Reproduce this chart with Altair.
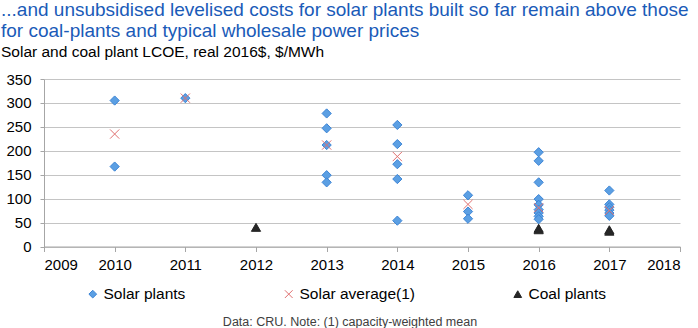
import altair as alt
import pandas as pd

# ---- data ----
series_names = ["Solar plants", "Solar average(1)", "Coal plants"]

solar_years = [2010, 2010,
               2011,
               2013, 2013, 2013, 2013, 2013,
               2014, 2014, 2014, 2014, 2014,
               2015, 2015, 2015,
               2016, 2016, 2016, 2016, 2016, 2016, 2016, 2016, 2016,
               2017, 2017, 2017, 2017, 2017, 2017]
solar_values = [305, 167,
                310,
                278, 247, 212, 149, 134,
                254, 214, 172, 141, 54,
                107, 73, 58,
                197, 179, 134, 99, 87, 77, 70, 63, 57,
                117, 88, 82, 76, 70, 64]

avg_years = [2010, 2011, 2013, 2014, 2015, 2016, 2017]
avg_values = [235, 310, 212, 188, 88, 81, 75]

coal_years = [2012, 2016, 2016, 2017, 2017]
coal_values = [40, 38, 35, 35, 32]

year_ticks = list(range(2009, 2019))
value_ticks = list(range(0, 351, 50))

title_lines = ["...and unsubsidised levelised costs for solar plants built so far remain above those",
               "for coal-plants and typical wholesale power prices"]
subtitle_text = "Solar and coal plant LCOE, real 2016$, $/MWh"
footer_text = "Data: CRU. Note: (1) capacity-weighted mean"

# ---- table ----
df = pd.concat([
    pd.DataFrame({"year": solar_years, "value": solar_values, "series": series_names[0]}),
    pd.DataFrame({"year": avg_years, "value": avg_values, "series": series_names[1]}),
    pd.DataFrame({"year": coal_years, "value": coal_values, "series": series_names[2]}),
], ignore_index=True)
df["order"] = df["series"].map({s: i for i, s in enumerate(series_names)})

FONT = "Liberation Sans"
X_PATH = "M-1,-1L1,1M-1,1L1,-1"

legend = alt.Legend(
    orient="none", legendX=41, legendY=207, direction="horizontal", columns=3,
    title=None, labelFontSize=15.5, labelFont=FONT, labelColor="#000000",
    symbolSize=60, columnPadding=95, labelOffset=3, padding=0,
    symbolStrokeWidth=1, symbolOpacity=1,
)

points = alt.Chart(df).mark_point(filled=True, size=85, strokeWidth=1, opacity=1).encode(
    x=alt.X("year:Q",
            scale=alt.Scale(domain=[2009, 2018], nice=False, zero=False),
            axis=alt.Axis(values=year_ticks, format="d", title=None, grid=False,
                          ticks=True, tickSize=5, labelPadding=6)),
    y=alt.Y("value:Q",
            scale=alt.Scale(domain=[0, 350], nice=False),
            axis=alt.Axis(values=value_ticks, title=None, grid=True,
                          ticks=True, tickSize=4, labelPadding=9)),
    shape=alt.Shape("series:N",
                    scale=alt.Scale(domain=series_names, range=["diamond", X_PATH, "triangle-up"]),
                    legend=legend),
    fill=alt.Fill("series:N",
                  scale=alt.Scale(domain=series_names, range=["#5B9FE3", "transparent", "#262626"]),
                  legend=legend),
    stroke=alt.Stroke("series:N",
                      scale=alt.Scale(domain=series_names, range=["#3D85D6", "#E07070", "#262626"]),
                      legend=legend),
    order=alt.Order("order:Q"),
)

footer = alt.Chart(pd.DataFrame({"t": [footer_text]})).mark_text(
    font=FONT, fontSize=12.5, color="#404040", align="center", baseline="middle"
).encode(x=alt.value(306), y=alt.value(243), text="t:N")

chart = alt.layer(points, footer).properties(
    width=636,
    height=167.5,
    autosize=alt.AutoSizeParams(type="none"),
    padding={"left": 44, "top": 79, "right": 18, "bottom": 81},
    title=alt.TitleParams(
        text=title_lines, subtitle=subtitle_text, anchor="start", frame="group",
        dx=-43, offset=12, font=FONT, fontSize=19, fontWeight="normal", color="#1A5BB8",
        lineHeight=21, subtitleFont=FONT, subtitleFontSize=15.5, subtitleColor="#000000",
        subtitlePadding=4,
    ),
).configure_view(stroke=None).configure_axis(
    domainColor="#A6A6A6", gridColor="#C4C4C4", tickColor="#A6A6A6",
    labelFont=FONT, labelFontSize=15, labelColor="#000000",
)

chart.save("out.html", embed_options={"renderer": "svg", "actions": False})
